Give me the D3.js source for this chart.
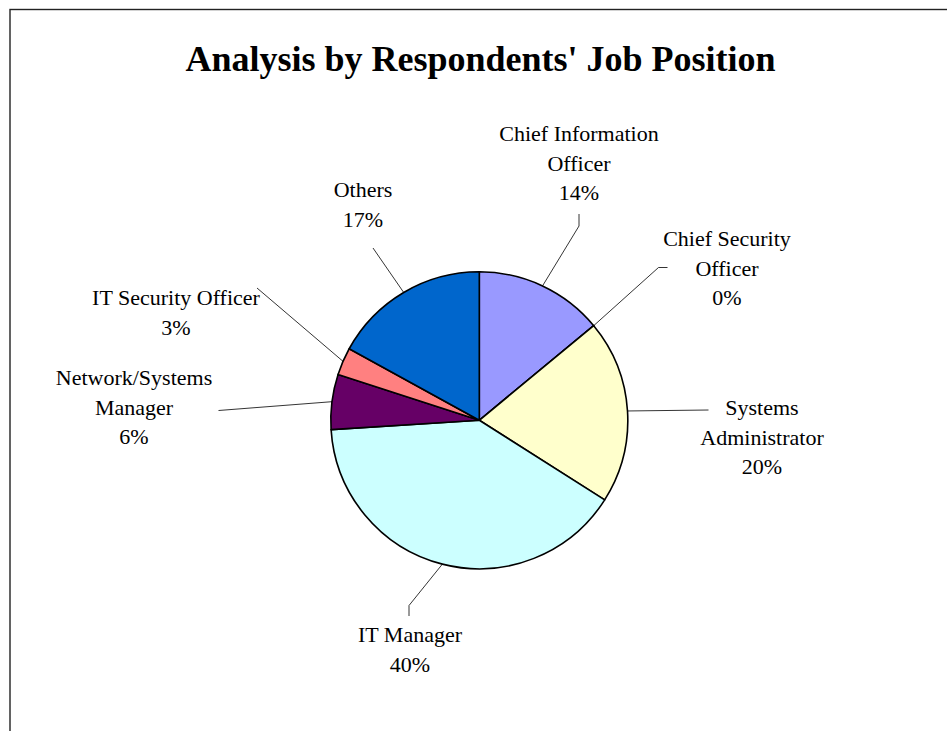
<!DOCTYPE html>
<html>
<head>
<meta charset="utf-8">
<script src="https://cdn.jsdelivr.net/npm/d3@7/dist/d3.min.js"></script>
<style>
  html, body { margin: 0; padding: 0; background: #fff; }
  svg { display: block; }
  text { font-family: "Liberation Serif", "Times New Roman", serif; fill: #000; }
</style>
</head>
<body>
<svg id="chart" width="947" height="731"></svg>
<script>
// Survey breakdown of respondents by job position (percent of respondents)
const categories = [
  "Chief Information Officer",
  "Chief Security Officer",
  "Systems Administrator",
  "IT Manager",
  "Network/Systems Manager",
  "IT Security Officer",
  "Others"
];
const shares = [14, 0, 20, 40, 6, 3, 17];
const sliceColors = ["#9999FF", "#993366", "#FFFFCC", "#CCFFFF", "#660066", "#FF8080", "#0066CC"];
const labelLines = [
  ["Chief Information", "Officer"],
  ["Chief Security", "Officer"],
  ["Systems", "Administrator"],
  ["IT Manager"],
  ["Network/Systems", "Manager"],
  ["IT Security Officer"],
  ["Others"]
];
const chartTitle = "Analysis by Respondents' Job Position";

// Placement of each data label block and the bend points of its leader line
const labelLayout = {
  "Chief Information Officer": { x: 579, y: 141, leader: [[579, 226], [579, 214]] },
  "Chief Security Officer":    { x: 727, y: 246, leader: [[658.5, 267.5], [667.5, 267.5]] },
  "Systems Administrator":     { x: 762, y: 415, leader: [[708.5, 410]] },
  "IT Manager":                { x: 410, y: 642, leader: [[409, 605.5], [409, 616]] },
  "Network/Systems Manager":   { x: 134, y: 385, leader: [[218.5, 410.5]] },
  "IT Security Officer":       { x: 176, y: 305, leader: [[257, 288]] },
  "Others":                    { x: 363, y: 197, leader: [[373, 248]] }
};

const svg = d3.select("#chart");
const cx = 479.3, cy = 420.3, radius = 148.5;
const lineGap = 29.5;

// Chart area border (runs past the right and bottom edges of the view)
svg.append("rect")
  .attr("x", 10).attr("y", 9.5)
  .attr("width", 1200).attr("height", 1200)
  .attr("fill", "none")
  .attr("stroke", "#222")
  .attr("stroke-width", 1.4);

svg.append("text")
  .attr("x", 480.5).attr("y", 71)
  .attr("text-anchor", "middle")
  .attr("font-size", 36)
  .attr("font-weight", "bold")
  .text(chartTitle);

const data = categories.map((c, i) => ({ name: c, value: shares[i], color: sliceColors[i], lines: labelLines[i] }));

const pie = d3.pie().value(d => d.value).sort(null).startAngle(0).endAngle(2 * Math.PI);
const arcs = pie(data);
const arc = d3.arc().innerRadius(0).outerRadius(radius);
const edge = d3.arc().innerRadius(radius).outerRadius(radius);

const g = svg.append("g").attr("transform", `translate(${cx},${cy})`);

g.selectAll("path.slice")
  .data(arcs)
  .join("path")
  .attr("class", "slice")
  .attr("d", arc)
  .attr("fill", d => d.data.color)
  .attr("stroke", "#000")
  .attr("stroke-width", 1.6)
  .attr("stroke-linejoin", "round");

// Leader lines from each slice's rim midpoint to its label
const line = d3.line();
svg.selectAll("path.leader")
  .data(arcs)
  .join("path")
  .attr("class", "leader")
  .attr("d", d => {
    const [ex, ey] = edge.centroid(d);
    const pts = [[cx + ex, cy + ey]].concat(labelLayout[d.data.name].leader);
    return line(pts);
  })
  .attr("fill", "none")
  .attr("stroke", "#000")
  .attr("stroke-width", 0.8);

// Data labels: category name lines followed by the percentage
const fmt = d3.format(".0%");
const labels = svg.selectAll("text.label")
  .data(arcs)
  .join("text")
  .attr("class", "label")
  .attr("text-anchor", "middle")
  .attr("font-size", 22);

labels.each(function (d) {
  const pos = labelLayout[d.data.name];
  const rows = d.data.lines.concat([fmt(d.data.value / d3.sum(shares))]);
  d3.select(this).selectAll("tspan")
    .data(rows)
    .join("tspan")
    .attr("x", pos.x)
    .attr("y", (r, i) => pos.y + i * lineGap)
    .text(r => r);
});
</script>
</body>
</html>
